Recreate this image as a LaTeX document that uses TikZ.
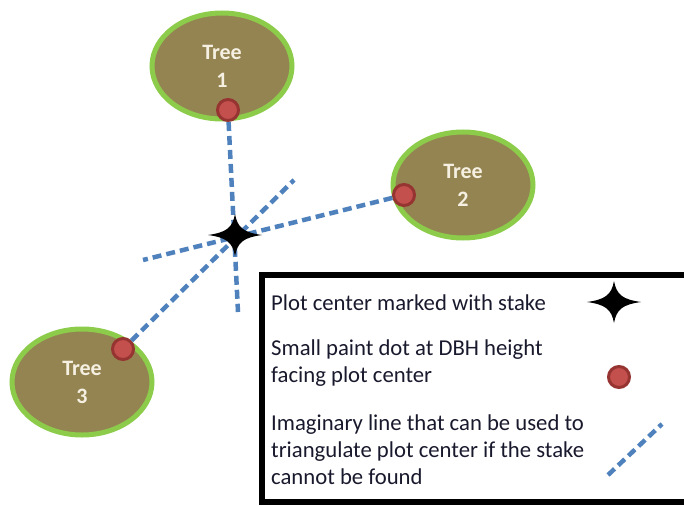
\documentclass[tikz,border=0pt]{standalone}
\usepackage{fontspec}
\setmainfont{Carlito}
\usetikzlibrary{shapes.geometric}
\definecolor{trunk}{RGB}{148,132,82}
\definecolor{bark}{RGB}{140,204,74}
\definecolor{paint}{RGB}{196,80,77}
\definecolor{paintedge}{RGB}{150,52,50}
\definecolor{sightline}{RGB}{79,129,189}
\definecolor{legendtext}{RGB}{25,25,45}
\definecolor{treetext}{RGB}{245,240,225}
\tikzset{
  stakestar/.pic={
    \fill[black] (-27,0) .. controls (-9,-2.5) and (-2.5,-7) .. (0,-21)
      .. controls (2.5,-7) and (9,-2.5) .. (27,0)
      .. controls (9,2.5) and (2.5,7) .. (0,21)
      .. controls (-2.5,7) and (-9,2.5) .. (-27,0) -- cycle;
  }
}
\begin{document}
\begin{tikzpicture}[x=1pt,y=-1pt,
  tree/.style={ellipse, fill=trunk, draw=bark, line width=5pt, minimum width=140pt, minimum height=106pt, inner sep=0pt, align=center, text=treetext, font=\fontsize{22}{28}\selectfont\bfseries},
  paintdot/.style={circle, fill=paint, draw=paintedge, line width=3pt, minimum size=21pt, inner sep=0pt},
  sight/.style={draw=sightline, line width=4.5pt, dash pattern=on 9pt off 5pt},
  legtext/.style={anchor=west, align=left, text=legendtext, font=\fontsize{22.7}{27}\selectfont, inner sep=0pt},
  frame/.style={draw=black, line width=6pt}
]
\useasboundingbox (0,0) rectangle (684,505);
\clip (0,0) rectangle (684,505);
\node[tree] (t1) at (222,66) {Tree\\1};
\node[tree] (t2) at (463,185) {Tree\\2};
\node[tree] (t3) at (82,382) {Tree\\3};
\node[paintdot] (d1) at (228,110) {};
\node[paintdot] (d2) at (404,195) {};
\node[paintdot] (d3) at (123,349) {};
\coordinate (pc) at (235,235);
\coordinate (e1) at (238,312);
\coordinate (e2) at (143,260);
\coordinate (e3) at (294,180);
\draw[sight] (d1) -- (e1);
\draw[sight] (d2) -- (e2);
\draw[sight] (d3) -- (e3);
\pic at (pc) {stakestar};
% legend
\draw[frame] (261.5,274.5) rectangle (700,502);
\node[legtext] (l1) at (271,303) {Plot center marked with stake};
\node[legtext] (l2) at (271,363) {Small paint dot at DBH height\\facing plot center};
\node[legtext] (l3) at (271,450) {Imaginary line that can be used to\\triangulate plot center if the stake\\cannot be found};
\coordinate (lstar) at (614,302);
\pic at (lstar) {stakestar};
\node[paintdot] (ldot) at (619,377) {};
\coordinate (ls) at (608,475);
\coordinate (le) at (662,424);
\draw[sight] (ls) -- (le);
\end{tikzpicture}
\end{document}
